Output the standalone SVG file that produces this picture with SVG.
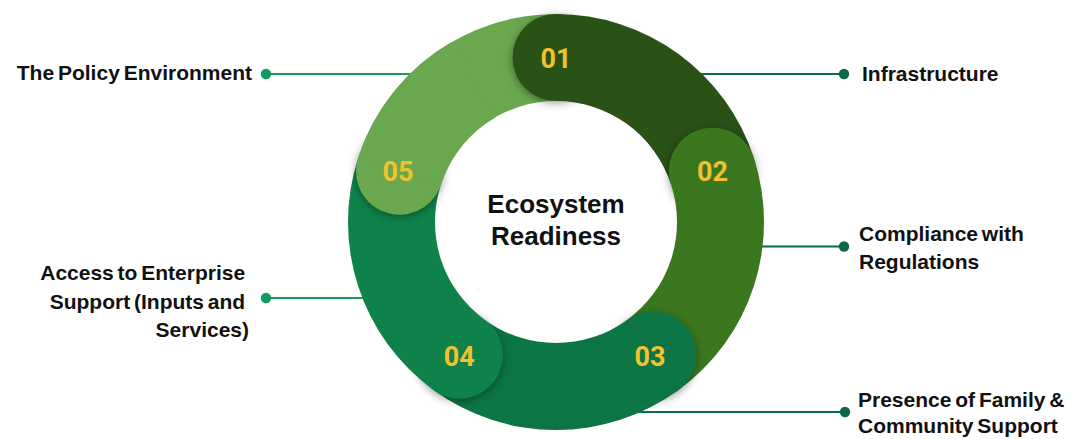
<svg xmlns="http://www.w3.org/2000/svg" width="1075" height="439" viewBox="0 0 1075 439">
  <style>
    .label { font-family: "Liberation Sans", Arial, sans-serif; font-weight: 700; font-size: 21px; word-spacing: -2px; fill: #111111; }
    .title { font-family: "Liberation Sans", Arial, sans-serif; font-weight: 700; font-size: 26px; fill: #111111; }
    .num { font-family: Roboto, "Open Sans", sans-serif; font-weight: 700; font-size: 27px; fill: #f2c12e; text-anchor: middle; }
    .line-l { stroke: #1a9a5b; stroke-width: 2; fill: none; }
    .line-r { stroke: #0b6b45; stroke-width: 2; fill: none; }
    .dot-l { fill: #13975b; }
    .dot-r { fill: #0b6a45; }
    .cap { filter: url(#capShadow); }
  </style>
  <defs>
    <filter id="capShadow" x="-40%" y="-40%" width="180%" height="180%">
      <feDropShadow dx="0" dy="2" stdDeviation="4" flood-color="#000000" flood-opacity="0.4"/>
    </filter>
  </defs>

  <rect width="1075" height="439" fill="#ffffff"/>

  <!-- leader lines with end dots -->
  <g id="connectors">
    <line class="line-l" x1="266" y1="74" x2="420" y2="74"/>
    <circle class="dot-l" cx="266" cy="74" r="5.2"/>
    <line class="line-l" x1="266" y1="298" x2="380" y2="298"/>
    <circle class="dot-l" cx="266" cy="298" r="5.2"/>
    <line class="line-r" x1="690" y1="74" x2="844" y2="74"/>
    <circle class="dot-r" cx="844" cy="74" r="5.2"/>
    <line class="line-r" x1="740" y1="246.5" x2="844" y2="246.5"/>
    <circle class="dot-r" cx="844" cy="246.5" r="5.2"/>
    <line class="line-r" x1="620" y1="412" x2="845" y2="412"/>
    <circle class="dot-r" cx="845" cy="412" r="5.2"/>
  </g>

  <!-- ring: five bands, each starting with a rounded cap -->
  <g id="seg05-base">
    <path fill="#69a84f" d="M358.18,157.72 A208,208 0 0 1 556,14 L556,101 A121,121 0 0 0 440.92,184.61 Z"/>
  </g>

  <g id="seg01">
    <circle class="cap" fill="#2a5116" cx="556" cy="57.5" r="43.5"/>
    <path fill="#2a5116" d="M556,14 A208,208 0 0 1 753.82,157.72 L671.08,184.61 A121,121 0 0 0 556,101 Z"/>
    <text class="num" x="556" y="67.5">01</text>
  </g>

  <g id="seg02">
    <circle class="cap" fill="#3a771f" cx="712.45" cy="171.17" r="43.5"/>
    <path fill="#3a771f" d="M753.82,157.72 A208,208 0 0 1 678.26,390.28 L627.12,319.89 A121,121 0 0 0 671.08,184.61 Z"/>
    <text class="num" x="712.45" y="181">02</text>
  </g>

  <g id="seg03">
    <circle class="cap" fill="#0c7544" cx="652.69" cy="355.08" r="43.5"/>
    <path fill="#0c7544" d="M678.26,390.28 A208,208 0 0 1 433.74,390.28 L484.88,319.89 A121,121 0 0 0 627.12,319.89 Z"/>
    <text class="num" x="650" y="366">03</text>
  </g>

  <g id="seg04">
    <circle class="cap" fill="#0e8249" cx="459.31" cy="355.08" r="43.5"/>
    <path fill="#0e8249" d="M433.74,390.28 A208,208 0 0 1 358.18,157.72 L440.92,184.61 A121,121 0 0 0 484.88,319.89 Z"/>
    <text class="num" x="459.31" y="366">04</text>
  </g>

  <g id="seg05">
    <circle class="cap" fill="#69a84f" cx="399.55" cy="171.17" r="43.5"/>
    <path fill="#69a84f" d="M358.18,157.72 A208,208 0 0 1 452,41.87 L495.5,117.21 A121,121 0 0 0 440.92,184.61 Z"/>
    <text class="num" x="398" y="181">05</text>
  </g>

  <g id="center">
    <text class="title" x="556" y="213" text-anchor="middle">Ecosystem</text>
    <text class="title" x="556" y="245" text-anchor="middle">Readiness</text>
  </g>

  <g id="label-policy">
    <text class="label" x="252" y="80" text-anchor="end">The Policy Environment</text>
  </g>
  <g id="label-access">
    <text class="label" text-anchor="end">
      <tspan x="249" y="280">Access to Enterprise</tspan>
      <tspan x="249" y="308.5">Support (Inputs and</tspan>
      <tspan x="249" y="337">Services)</tspan>
    </text>
  </g>
  <g id="label-infrastructure">
    <text class="label" x="862" y="81">Infrastructure</text>
  </g>
  <g id="label-compliance">
    <text class="label">
      <tspan x="859" y="240.5">Compliance with</tspan>
      <tspan x="859" y="269">Regulations</tspan>
    </text>
  </g>
  <g id="label-family">
    <text class="label">
      <tspan x="858" y="406.5">Presence of Family &amp;</tspan>
      <tspan x="858" y="433">Community Support</tspan>
    </text>
  </g>
</svg>
